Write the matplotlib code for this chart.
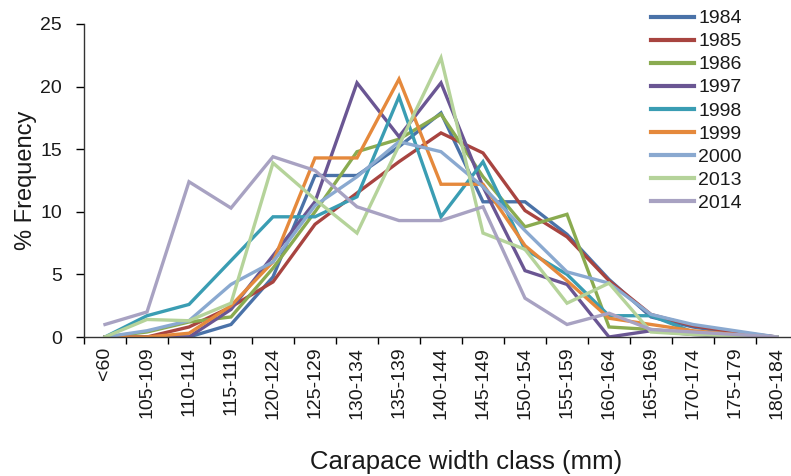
import matplotlib
matplotlib.use("Agg")
import matplotlib.pyplot as plt

plt.rcParams['font.family'] = ['Liberation Sans', 'DejaVu Sans']

# Carapace width classes (mm)
classes = ['<60', '105-109', '110-114', '115-119', '120-124', '125-129',
           '130-134', '135-139', '140-144', '145-149', '150-154', '155-159',
           '160-164', '165-169', '170-174', '175-179', '180-184']

# % frequency per class for each survey year
y1984 = [0, 0, 0, 1.0, 4.8, 12.9, 12.9, 15.2, 17.9, 10.8, 10.8, 8.2, 4.6, 1.6, 0.8, 0.3, 0]
y1985 = [0, 0, 0.8, 2.4, 4.4, 9.0, 11.5, 14.0, 16.3, 14.7, 10.1, 8.0, 4.5, 1.8, 0.9, 0.4, 0]
y1986 = [0, 0.4, 1.2, 1.6, 5.5, 10.0, 14.8, 15.8, 17.8, 12.8, 8.8, 9.8, 0.8, 0.6, 0.3, 0.1, 0]
y1997 = [0, 0, 0, 2.2, 6.5, 10.8, 20.3, 16.0, 20.3, 12.0, 5.3, 4.2, 0, 0.5, 0.2, 0, 0]
y1998 = [0, 1.7, 2.6, 6.1, 9.6, 9.6, 11.2, 19.2, 9.6, 14.0, 7.0, 5.0, 1.7, 1.7, 0.4, 0.1, 0]
y1999 = [0, 0, 0.3, 2.5, 6.0, 14.3, 14.3, 20.6, 12.2, 12.2, 7.3, 4.5, 1.5, 1.0, 0.5, 0.2, 0]
y2000 = [0, 0.5, 1.3, 4.2, 6.0, 10.5, 12.8, 15.6, 14.8, 12.0, 8.5, 5.2, 4.3, 1.8, 1.0, 0.5, 0]
y2013 = [0, 1.4, 1.3, 2.7, 13.9, 11.0, 8.3, 15.3, 22.3, 8.3, 7.0, 2.7, 4.3, 0.4, 0.2, 0.1, 0]
y2014 = [1.0, 2.0, 12.4, 10.3, 14.4, 13.3, 10.4, 9.3, 9.3, 10.4, 3.1, 1.0, 1.9, 0.6, 0.4, 0.2, 0]

years = ['1984', '1985', '1986', '1997', '1998', '1999', '2000', '2013', '2014']
series = [y1984, y1985, y1986, y1997, y1998, y1999, y2000, y2013, y2014]
colors = ['#4a72a8', '#a84440', '#8aab50', '#6a5693', '#3a9db3',
          '#e5893c', '#8aa9d0', '#b5d39a', '#a8a2c2']

fig = plt.figure(figsize=(7.91, 4.76), dpi=100)
ax = fig.add_axes([84 / 791, 1 - 337 / 476, 714 / 791, 313 / 476])

x = range(len(classes))
for yr, vals, c in zip(years, series, colors):
    ax.plot(x, vals, color=c, lw=2.4, label=yr, solid_joinstyle='miter')

ax.set_xlim(-0.5, len(classes) - 0.5)
ax.set_ylim(0, 25)
ax.set_yticks([0, 5, 10, 15, 20, 25])

# labels sit on the class centres, tick marks between classes
ax.set_xticks(list(x))
ax.set_xticklabels(classes, rotation=90)
ax.set_xticks([i - 0.5 for i in range(len(classes) + 1)], minor=True)
ax.tick_params(axis='x', which='major', length=0, pad=7, labelsize=14, labelcolor='#1a1a1a')
ax.tick_params(axis='x', which='minor', length=5, width=1, direction='out')
ax.tick_params(axis='y', length=6, width=1, direction='out', labelsize=14, pad=10,
               labelcolor='#1a1a1a')

for side in ['top', 'right']:
    ax.spines[side].set_visible(False)
for side in ['left', 'bottom']:
    ax.spines[side].set_linewidth(1.0)
    ax.spines[side].set_color('#333333')

ax.set_ylabel('% Frequency', fontsize=17, color='#1a1a1a')
ax.yaxis.set_label_coords(-0.066, 0.5)
ax.set_xlabel('Carapace width class (mm)', fontsize=18.5, color='#1a1a1a')
ax.xaxis.set_label_coords(0.535, -0.36)

leg = ax.legend(loc='upper left', bbox_to_anchor=(641 / 791, 1.0), bbox_transform=fig.transFigure,
                frameon=False, fontsize=14, handlelength=2.2, handletextpad=0.25,
                labelspacing=0.28, borderpad=0.0)
for t in leg.get_texts():
    t.set_color('#1a1a1a')
for h in leg.get_lines():
    h.set_linewidth(3.0)

fig.savefig('out.png', dpi=100)
